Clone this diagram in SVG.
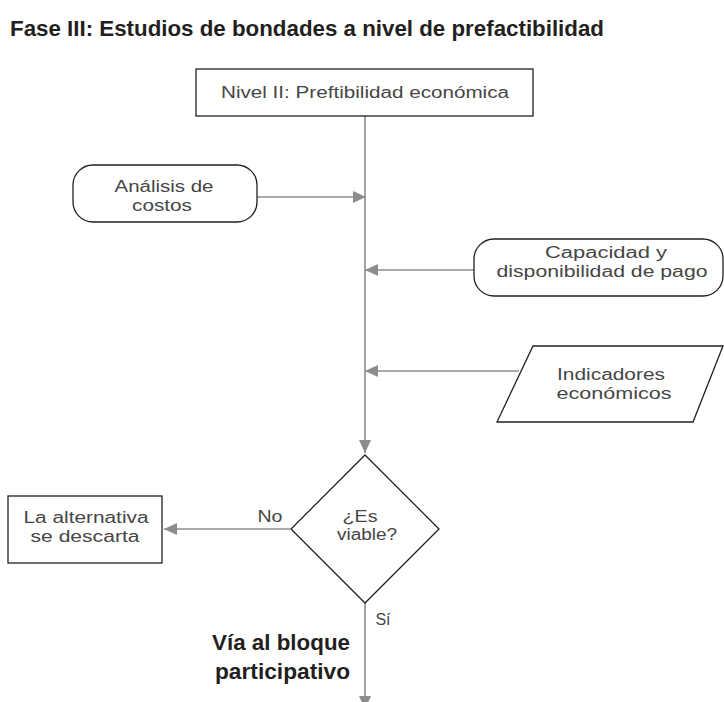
<svg xmlns="http://www.w3.org/2000/svg" width="724" height="702" viewBox="0 0 724 702">
<style>
.t{font-family:"Liberation Sans","Open Sans",sans-serif;font-size:16px;fill:#464646;text-anchor:middle}
.b{font-family:"Liberation Sans","Open Sans",sans-serif;font-weight:bold;fill:#231f20}
.n{fill:#fff;stroke:#231f20;stroke-width:1.3}
.c{stroke:#8c8c8c;stroke-width:1.6;fill:none;marker-end:url(#ah)}
</style>
<defs>
<marker id="ah" markerUnits="userSpaceOnUse" markerWidth="13" markerHeight="12" refX="13" refY="6" orient="auto">
<path d="M0,0 L13,6 L0,12 z" fill="#8c8c8c"/>
</marker>
</defs>
<rect width="724" height="702" fill="#fff"/>
<text class="b" x="10" y="36" font-size="22" textLength="594" lengthAdjust="spacingAndGlyphs">Fase III: Estudios de bondades a nivel de prefactibilidad</text>
<g id="connectors">
<line class="c" x1="365" y1="116" x2="365" y2="453"/>
<line class="c" x1="257" y1="197" x2="366" y2="197"/>
<line class="c" x1="474" y1="270" x2="365" y2="270"/>
<line class="c" x1="519" y1="371" x2="365" y2="371"/>
<line class="c" x1="290" y1="529" x2="164" y2="529"/>
<line class="c" x1="365" y1="603" x2="365" y2="709"/>
</g>
<g id="nivel">
<rect class="n" x="196" y="69" width="337" height="47"/>
<text class="t" x="365" y="98" textLength="288" lengthAdjust="spacingAndGlyphs">Nivel II: Preftibilidad económica</text>
</g>
<g id="analisis">
<rect class="n" x="73" y="165" width="184" height="57" rx="20"/>
<text class="t" x="164" y="192" textLength="99" lengthAdjust="spacingAndGlyphs">Análisis de</text>
<text class="t" x="162" y="211" textLength="60" lengthAdjust="spacingAndGlyphs">costos</text>
</g>
<g id="capacidad">
<rect class="n" x="474" y="239" width="249" height="57" rx="20"/>
<text class="t" x="606" y="258" textLength="122" lengthAdjust="spacingAndGlyphs">Capacidad y</text>
<text class="t" x="602" y="277" textLength="211" lengthAdjust="spacingAndGlyphs">disponibilidad de pago</text>
</g>
<g id="indicadores">
<polygon class="n" points="533,346 723,346 693,422 497,422"/>
<text class="t" x="611" y="380" textLength="108" lengthAdjust="spacingAndGlyphs">Indicadores</text>
<text class="t" x="614" y="399" textLength="115" lengthAdjust="spacingAndGlyphs">económicos</text>
</g>
<g id="decision">
<polygon class="n" points="365,455 439,529 365,603 291,529"/>
<text class="t" x="360" y="522" textLength="35" lengthAdjust="spacingAndGlyphs">¿Es</text>
<text class="t" x="367" y="540" textLength="60" lengthAdjust="spacingAndGlyphs">viable?</text>
</g>
<g id="descarta">
<rect class="n" x="8" y="496" width="154" height="67"/>
<text class="t" x="86" y="523" textLength="125" lengthAdjust="spacingAndGlyphs">La alternativa</text>
<text class="t" x="85" y="542" textLength="109" lengthAdjust="spacingAndGlyphs">se descarta</text>
</g>
<text class="t" x="270" y="522" font-size="17" textLength="25" lengthAdjust="spacingAndGlyphs">No</text>
<text class="t" x="383" y="625" font-size="16">Sí</text>
<g id="bloque">
<text class="b" x="350" y="650" font-size="22" text-anchor="end" textLength="138" lengthAdjust="spacingAndGlyphs">Vía al bloque</text>
<text class="b" x="350" y="679" font-size="22" text-anchor="end" textLength="135" lengthAdjust="spacingAndGlyphs">participativo</text>
</g>
</svg>
